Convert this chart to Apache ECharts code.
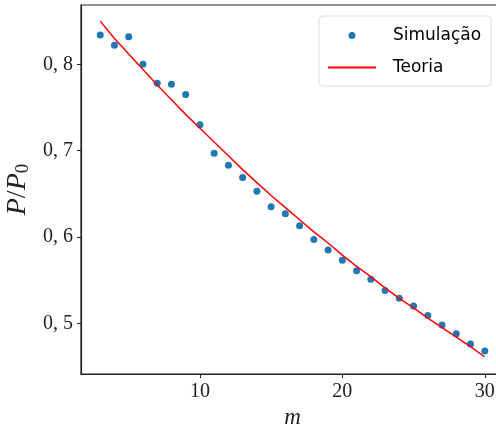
<!DOCTYPE html>
<html>
<head>
<meta charset="utf-8">
<script src="https://cdn.jsdelivr.net/npm/echarts@6/dist/echarts.min.js"></script>
<style>
html,body{margin:0;padding:0;background:#fff;}
#chart{width:496px;height:430px;}
</style>
</head>
<body>
<div id="chart"></div>
<script>
var mValues = [3,4,5,6,7,8,9,10,11,12,13,14,15,16,17,18,19,20,21,22,23,24,25,26,27,28,29,30];
var simulacao = [0.834,0.822,0.832,0.800,0.778,0.777,0.765,0.730,0.697,0.683,0.669,0.653,0.635,0.627,0.613,0.597,0.585,0.573,0.561,0.551,0.538,0.529,0.520,0.509,0.498,0.488,0.476,0.468];
var teoria = [0.850,0.830,0.812,0.794,0.776,0.759,0.742,0.726,0.710,0.694,0.678,0.663,0.648,0.634,0.620,0.606,0.593,0.579,0.566,0.554,0.541,0.529,0.518,0.506,0.495,0.484,0.473,0.461];
var xTicks = [10,20,30];
var yTicks = [0.5,0.6,0.7,0.8];

var chart = echarts.init(document.getElementById('chart'), null, {renderer:'canvas'});
var serif = '"Liberation Serif", "DejaVu Serif", serif';
chart.setOption({
  animation:false,
  backgroundColor:'#fff',
  grid:{left:81, top:5, right:-8, bottom:56, outerBoundsMode:'none', containLabel:false,
        show:true, borderColor:'#222', borderWidth:1.2},
  legend:{
    orient:'vertical', left:319, top:16,
    padding:[11,10,10,8],
    backgroundColor:'#fff', borderColor:'#ddd', borderWidth:1, borderRadius:4,
    itemWidth:48, itemHeight:7, itemGap:15,
    textStyle:{fontFamily:'"DejaVu Sans", sans-serif', fontSize:17, color:'#000', padding:[0,0,0,12]},
    data:[{name:'Simulação', icon:'circle'},{name:'Teoria', itemStyle:{opacity:0}}]
  },
  xAxis:{
    type:'value', min:1.65, max:31.35,
    axisLine:{show:true, onZero:false, lineStyle:{color:'#222', width:1.2}},
    axisTick:{show:true, length:4, customValues:xTicks, lineStyle:{color:'#222'}},
    axisLabel:{customValues:xTicks, fontFamily:serif, fontSize:20, color:'#222', margin:8},
    splitLine:{show:false},
    name:'m', nameLocation:'middle', nameGap:30,
    nameTextStyle:{fontFamily:serif, fontStyle:'italic', fontSize:23, color:'#222'}
  },
  yAxis:{
    type:'value', min:0.4413, max:0.8687,
    axisLine:{show:true, onZero:false, lineStyle:{color:'#222', width:1.2}},
    axisTick:{show:true, length:4, customValues:yTicks, lineStyle:{color:'#222'}},
    axisLabel:{customValues:yTicks, fontFamily:serif, fontSize:20, color:'#222', margin:8,
      formatter:function(v){return v.toFixed(1).replace('.', ', ');}},
    splitLine:{show:false},
    name:'{it|P}/{it|P}{sub|0}', nameLocation:'middle', nameGap:36, nameRotate:90,
    nameTextStyle:{fontFamily:serif, fontSize:28, color:'#222',
      rich:{it:{fontFamily:serif, fontStyle:'italic', fontSize:28, color:'#222'},
            sub:{fontFamily:serif, fontSize:19, color:'#222', verticalAlign:'bottom', padding:[10,0,0,0]}}}
  },
  series:[
    {name:'Simulação', type:'scatter', symbol:'circle', symbolSize:7,
     itemStyle:{color:'#1f77b4', opacity:1},
     data:mValues.map(function(m,i){return [m, simulacao[i]];}), z:3},
    {name:'Teoria', type:'line', symbol:'none', smooth:false,
     lineStyle:{color:'#ff0000', width:1.5}, itemStyle:{color:'#ff0000'},
     data:mValues.map(function(m,i){return [m, teoria[i]];}), z:4}
  ]
});
</script>
</body>
</html>
